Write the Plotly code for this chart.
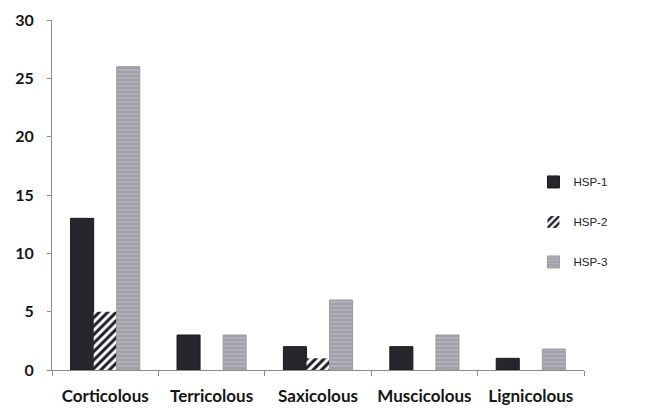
import plotly.graph_objects as go

categories = ["Corticolous", "Terricolous", "Saxicolous", "Muscicolous", "Lignicolous"]
hsp1 = [13, 3, 2, 2, 1]
hsp2 = [5, 0, 1, 0, 0]
hsp3 = [26, 3, 6, 3, 1.8]
series_names = ["HSP-1", "HSP-2", "HSP-3"]
y_ticks = [0, 5, 10, 15, 20, 25, 30]

# page body has an 8px default margin, so the figure is drawn 8px smaller
W, H = 661, 401
L, R, T, B = 44, 85, 12, 39

fig = go.Figure()
fig.add_trace(go.Bar(
    x=categories, y=hsp1, name=series_names[0], legendgroup="a",
    marker=dict(color="#26262c", line=dict(color="#1a1a1f", width=1)),
))
fig.add_trace(go.Bar(
    x=categories, y=hsp2, name=series_names[1], legendgroup="b",
    marker=dict(color="#ffffff", line=dict(color="#555", width=0),
                pattern=dict(shape="/", fgcolor="#1e1e24", bgcolor="#ffffff",
                             size=6, solidity=0.5, fgopacity=1)),
))
fig.add_trace(go.Bar(
    x=categories, y=hsp3, name=series_names[2], legendgroup="c",
    marker=dict(color="#a7a7ae", line=dict(color="#9a9aa2", width=1),
                pattern=dict(shape="-", fgcolor="#cfcfd5", bgcolor="#a0a0a8",
                             size=4, solidity=0.35)),
))

fig.update_layout(
    width=W, height=H,
    margin=dict(l=L, r=R, t=T, b=B, autoexpand=False),
    paper_bgcolor="white", plot_bgcolor="white",
    barmode="group", bargap=0.35, bargroupgap=0,
    font=dict(family="Lato, 'Open Sans', sans-serif", color="#1a1a1a"),
    showlegend=True,
    legend=dict(
        x=0.905, xanchor="left", y=0.423, yanchor="middle",
        traceorder="grouped", tracegroupgap=21,
        font=dict(family="'Liberation Sans', sans-serif", size=11.5, color="#222"),
        bgcolor="rgba(0,0,0,0)", itemwidth=30,
    ),
    xaxis=dict(
        showline=True, linecolor="#8a8a8a", linewidth=1,
        ticks="outside", tickson="boundaries", ticklen=5, tickcolor="#8a8a8a",
        tickfont=dict(size=17, family="Lato", weight="bold", color="#151515"),
        ticklabelstandoff=11, showgrid=False, automargin=False,
    ),
    yaxis=dict(
        range=[0, 30], tickvals=y_ticks,
        showline=True, linecolor="#8a8a8a", linewidth=1,
        ticks="outside", ticklen=4, tickcolor="#8a8a8a",
        tickfont=dict(size=16, family="Lato", weight="bold", color="#151515"),
        ticklabelstandoff=10, showgrid=False, zeroline=False, automargin=False,
    ),
)

fig.write_html("out.html")
